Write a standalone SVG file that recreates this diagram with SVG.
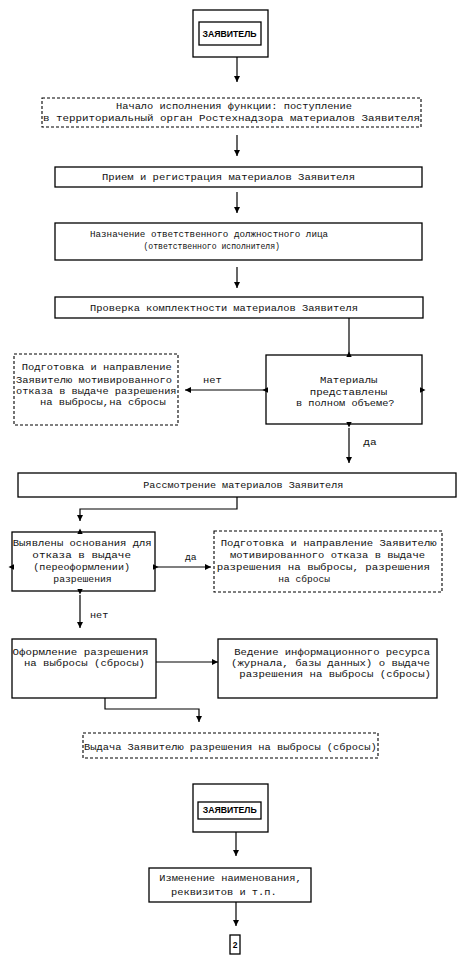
<svg xmlns="http://www.w3.org/2000/svg" width="465" height="970" viewBox="0 0 465 970">
<defs>
<marker id="ah" markerUnits="userSpaceOnUse" markerWidth="7" markerHeight="6" refX="6" refY="3" orient="auto">
<path d="M0,0 L6,3 L0,6 z" fill="#000"/>
</marker>
<style>
.b{fill:#fff;stroke:#000;stroke-width:1.3}
.d{fill:#fff;stroke:#000;stroke-width:1.1;stroke-dasharray:3,2}
.t{font-family:"Liberation Mono","DejaVu Sans Mono",monospace;font-size:9.5px;fill:#111}
.s{font-size:8.2px}
.h{font-family:"Liberation Sans",Arial,sans-serif;font-size:8.5px;font-weight:bold;fill:#000}
.c{fill:none;stroke:#000;stroke-width:1.2}
.p{fill:#000}
</style>
</defs>
<rect width="465" height="970" fill="#fff"/>

<g id="connectors">
<line class="c" x1="237" y1="57" x2="237" y2="82" marker-end="url(#ah)"/>
<line class="c" x1="237" y1="135" x2="237" y2="156" marker-end="url(#ah)"/>
<line class="c" x1="237" y1="192" x2="237" y2="213" marker-end="url(#ah)"/>
<line class="c" x1="237" y1="267" x2="237" y2="288" marker-end="url(#ah)"/>
<line class="c" x1="349" y1="318" x2="349" y2="353"/>
<line class="c" x1="264" y1="390" x2="185" y2="390" marker-end="url(#ah)"/>
<line class="c" x1="349" y1="428" x2="349" y2="463" marker-end="url(#ah)"/>
<polyline class="c" points="237,497 237,509 80,509 80,521" marker-end="url(#ah)"/>
<line class="c" x1="157" y1="567" x2="211" y2="567" marker-end="url(#ah)"/>
<line class="c" x1="80" y1="595" x2="80" y2="628" marker-end="url(#ah)"/>
<line class="c" x1="156" y1="662" x2="218" y2="662" stroke-width="2" marker-end="url(#ah)"/>
<polyline class="c" points="105,698 105,709 199,709 199,722" marker-end="url(#ah)"/>
<line class="c" x1="236" y1="832" x2="236" y2="856" marker-end="url(#ah)"/>
<line class="c" x1="236" y1="902" x2="236" y2="926" marker-end="url(#ah)"/>
</g>

<g id="n-applicant1">
<rect class="b" x="193" y="10" width="75" height="47"/>
<rect class="b" x="199" y="22" width="62" height="23"/>
<text class="h" x="202.5" y="36.5" textLength="54" lengthAdjust="spacingAndGlyphs">ЗАЯВИТЕЛЬ</text>
</g>

<g id="n-start">
<rect class="d" x="42" y="98" width="379" height="29"/>
<text class="t" x="116" y="108.7" textLength="236" lengthAdjust="spacingAndGlyphs">Начало исполнения функции: поступление</text>
<text class="t" x="43" y="120.7" textLength="377" lengthAdjust="spacingAndGlyphs">в территориальный орган Ростехнадзора материалов Заявителя</text>
</g>

<g id="n-receive">
<rect class="b" x="55" y="167" width="367" height="20"/>
<text class="t" x="102" y="179.7" textLength="253" lengthAdjust="spacingAndGlyphs">Прием и регистрация материалов Заявителя</text>
</g>

<g id="n-assign">
<rect class="b" x="55" y="223" width="367" height="37"/>
<text class="t s" x="90" y="237" textLength="238" lengthAdjust="spacingAndGlyphs">Назначение ответственного должностного лица</text>
<text class="t s" x="143.5" y="249" textLength="136.5" lengthAdjust="spacingAndGlyphs">(ответственного исполнителя)</text>
</g>

<g id="n-check">
<rect class="b" x="55" y="297" width="368" height="21"/>
<text class="t" x="90" y="311.3" textLength="268" lengthAdjust="spacingAndGlyphs">Проверка комплектности материалов Заявителя</text>
</g>

<g id="n-refuse1">
<rect class="d" x="14" y="354" width="164" height="71"/>
<text class="t" x="21.7" y="369.7" textLength="150" lengthAdjust="spacingAndGlyphs">Подготовка и направление</text>
<text class="t" x="16" y="383" textLength="156" lengthAdjust="spacingAndGlyphs">Заявителю мотивированного</text>
<text class="t" x="16" y="393.7" textLength="160.5" lengthAdjust="spacingAndGlyphs">отказа в выдаче разрешения</text>
<text class="t" x="40" y="405.3" textLength="125.7" lengthAdjust="spacingAndGlyphs">на выбросы,на сбросы</text>
</g>

<g id="n-decision1">
<rect class="b" x="266" y="355" width="156" height="69"/>
<polygon class="p" points="349,351.5 346.3,357 351.7,357"/>
<polygon class="p" points="262.5,390 268,387.3 268,392.7"/>
<polygon class="p" points="425.5,390 420,387.3 420,392.7"/>
<polygon class="p" points="349,427.5 346.3,422 351.7,422"/>
<text class="t" x="320" y="383" textLength="57.5" lengthAdjust="spacingAndGlyphs">Материалы</text>
<text class="t" x="309.7" y="394.7" textLength="77.5" lengthAdjust="spacingAndGlyphs">представлены</text>
<text class="t" x="296" y="406.3" textLength="98.5" lengthAdjust="spacingAndGlyphs">в полном объеме?</text>
</g>
<text class="t" x="203" y="383" textLength="18.7" lengthAdjust="spacingAndGlyphs">нет</text>
<text class="t" x="363.3" y="444.7" textLength="13.4" lengthAdjust="spacingAndGlyphs">да</text>

<g id="n-review">
<rect class="b" x="18" y="473" width="438" height="24"/>
<text class="t" x="143.3" y="488" textLength="200" lengthAdjust="spacingAndGlyphs">Рассмотрение материалов Заявителя</text>
</g>

<g id="n-decision2">
<rect class="b" x="12" y="532" width="143" height="59"/>
<polygon class="p" points="80,528.5 77.3,534 82.7,534"/>
<polygon class="p" points="8.5,567 14,564.3 14,569.7"/>
<polygon class="p" points="158.5,567 153,564.3 153,569.7"/>
<polygon class="p" points="80,594.5 77.3,589 82.7,589"/>
<text class="t" x="12.7" y="546.3" textLength="139" lengthAdjust="spacingAndGlyphs">Выявлены основания для</text>
<text class="t" x="32.3" y="558" textLength="98.7" lengthAdjust="spacingAndGlyphs">отказа в выдаче</text>
<text class="t" x="33.3" y="570" textLength="96.7" lengthAdjust="spacingAndGlyphs">(переоформлении)</text>
<text class="t" x="53.3" y="582" textLength="58.4" lengthAdjust="spacingAndGlyphs">разрешения</text>
</g>
<text class="t" x="185" y="559.7" textLength="11.7" lengthAdjust="spacingAndGlyphs">да</text>

<g id="n-refuse2">
<rect class="d" x="214" y="531" width="228" height="61"/>
<text class="t" x="220.7" y="546.3" textLength="216" lengthAdjust="spacingAndGlyphs">Подготовка и направление Заявителю</text>
<text class="t" x="230" y="558" textLength="195" lengthAdjust="spacingAndGlyphs">мотивированного отказа в выдаче</text>
<text class="t" x="216.7" y="570" textLength="213.3" lengthAdjust="spacingAndGlyphs">разрешения на выбросы, разрешения</text>
<text class="t" x="278.3" y="582" textLength="51.7" lengthAdjust="spacingAndGlyphs">на сбросы</text>
</g>
<text class="t" x="90" y="618" textLength="18.3" lengthAdjust="spacingAndGlyphs">нет</text>

<g id="n-issue">
<rect class="b" x="12" y="639" width="144" height="59"/>
<text class="t" x="12.5" y="654.7" textLength="136" lengthAdjust="spacingAndGlyphs">Оформление разрешения</text>
<text class="t" x="24" y="665.7" textLength="121" lengthAdjust="spacingAndGlyphs">на выбросы (сбросы)</text>
</g>

<g id="n-register">
<rect class="b" x="218" y="639" width="219" height="59"/>
<text class="t" x="234.3" y="655.3" textLength="195.7" lengthAdjust="spacingAndGlyphs">Ведение информационного ресурса</text>
<text class="t" x="231" y="666.3" textLength="199" lengthAdjust="spacingAndGlyphs">(журнала, базы данных) о выдаче</text>
<text class="t" x="239.3" y="677" textLength="191.7" lengthAdjust="spacingAndGlyphs">разрешения на выбросы (сбросы)</text>
</g>

<g id="n-deliver">
<rect class="d" x="83" y="733" width="295" height="25"/>
<text class="t" x="84" y="749.7" textLength="292.7" lengthAdjust="spacingAndGlyphs">Выдача Заявителю разрешения на выбросы (сбросы)</text>
</g>

<g id="n-applicant2">
<rect class="b" x="193" y="784" width="75" height="48"/>
<rect class="b" x="198" y="802" width="63" height="17"/>
<text class="h" x="202.7" y="813" textLength="54" lengthAdjust="spacingAndGlyphs">ЗАЯВИТЕЛЬ</text>
</g>

<g id="n-change">
<rect class="b" x="149" y="868" width="162" height="34"/>
<text class="t" x="159.3" y="881.3" textLength="142.4" lengthAdjust="spacingAndGlyphs">Изменение наименования,</text>
<text class="t" x="171" y="894.7" textLength="105.7" lengthAdjust="spacingAndGlyphs">реквизитов и т.п.</text>
</g>

<g id="n-2">
<rect class="b" x="230" y="935" width="10" height="19" stroke-width="1.6"/>
<text class="h" x="235" y="948" text-anchor="middle" font-size="9">2</text>
</g>
</svg>
